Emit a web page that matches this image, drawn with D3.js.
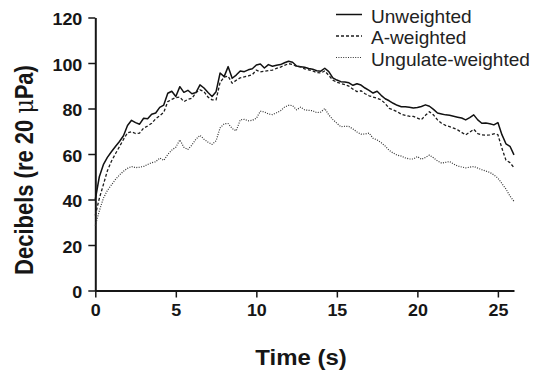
<!DOCTYPE html>
<html>
<head>
<meta charset="utf-8">
<script src="https://cdn.jsdelivr.net/npm/d3@7"></script>
<style>
  html, body { margin: 0; padding: 0; background: #fff; }
  svg { display: block; }
</style>
</head>
<body>
<svg id="chart" width="536" height="372"></svg>
<script>
// Sample times (s), one every 0.25 s
const timeS = [
  0, 0.25, 0.5, 0.75, 1, 1.25, 1.5, 1.75, 2,
  2.25, 2.5, 2.75, 3, 3.25, 3.5, 3.75, 4,
  4.25, 4.5, 4.75, 5, 5.25, 5.5, 5.75, 6,
  6.25, 6.5, 6.75, 7, 7.25, 7.5, 7.75, 8,
  8.25, 8.5, 8.75, 9, 9.25, 9.5, 9.75, 10,
  10.25, 10.5, 10.75, 11, 11.25, 11.5, 11.75, 12,
  12.25, 12.5, 12.75, 13, 13.25, 13.5, 13.75, 14,
  14.25, 14.5, 14.75, 15, 15.25, 15.5, 15.75, 16,
  16.25, 16.5, 16.75, 17, 17.25, 17.5, 17.75, 18,
  18.25, 18.5, 18.75, 19, 19.25, 19.5, 19.75, 20,
  20.25, 20.5, 20.75, 21, 21.25, 21.5, 21.75, 22,
  22.25, 22.5, 22.75, 23, 23.25, 23.5, 23.75, 24,
  24.25, 24.5, 24.75, 25, 25.25, 25.5, 25.75, 26
];

// Sound level (dB re 20 µPa) for each weighting
const unweighted = [
  40, 50, 55.3, 58.5, 61, 63.3, 65.5, 68, 72.5,
  74.8, 73.8, 73.1, 75.7, 75.5, 77.5, 78, 80.5,
  81.5, 86.7, 87.6, 85.3, 89.6, 87.1, 88, 86.5,
  87, 90.4, 89, 87, 85.3, 87.4, 95.6, 94,
  98.4, 93.3, 94.7, 96.5, 96.2, 97, 97.5, 99.1,
  99.6, 97.8, 99.3, 98.6, 99, 99.3, 100.1, 100.8,
  100.3, 98.7, 98.4, 98.1, 97.6, 97.3, 96.6, 96.4,
  97.7, 96.2, 93.5, 92.5, 91.8, 91.6, 91.3, 90.2,
  90.9, 90.3, 89, 88, 86.8, 87.6, 85.8, 84.3,
  83.4, 82.3, 81.4, 80.8, 80.8, 80.5, 80.2, 80.4,
  80.9, 81.6, 81, 79.6, 78, 77.6, 77.2, 77,
  76.6, 76.2, 75.8, 75, 76, 77.2, 75, 73.5,
  73.6, 73.3, 72.8, 73.8, 68.5, 64.5, 63.4, 59.6
];

const aWeighted = [
  33, 40.5, 46.5, 52.6, 56.8, 60.1, 63.2, 66.4, 69.3,
  69.8, 69, 69.2, 71.4, 72.3, 73.5, 75.5, 76.8,
  78.3, 83, 84, 84.8, 85, 83, 84, 84.5,
  87, 88.2, 87.4, 85, 83.8, 83.8, 91.5, 93.8,
  94.2, 91.1, 92.4, 93.5, 93.9, 94.3, 94.9, 96.9,
  96.1, 96.4, 96.7, 96.9, 97.6, 98.2, 99, 99.7,
  99.4, 98.5, 98.3, 97.4, 97, 96.5, 95.8, 95.6,
  96.5, 94.5, 92.5, 91.5, 91, 90.5, 89.8, 88.5,
  87.4, 87.8, 86.5, 85.6, 85, 84.5, 83.8, 82.2,
  80.1, 79.4, 78.6, 77.5, 77, 76.6, 76.5, 75.8,
  75.1, 77, 78.6, 77.2, 75, 73.5, 72.6, 72,
  71.4, 70.6, 69.5, 68.4, 69.6, 70.9, 69, 68.4,
  68.3, 68.4, 68.9, 68.5, 62.5, 57.3, 56.2, 54
];

const ungulateWeighted = [
  28.5, 35, 40.5, 44, 46.4, 48.8, 50.8, 52.4, 53.7,
  54.5, 54, 54.2, 54.5, 55.4, 56.2, 56.6, 58.2,
  57.2, 59.8, 61.7, 63, 66.2, 63, 62, 64,
  66.5, 68.2, 66.5, 65.2, 64.2, 65.8, 71.5, 73.3,
  73.4, 71.2, 70.2, 75, 75.2, 74.6, 74.8, 75.7,
  78.8, 78.5, 77.6, 77.3, 78.1, 79, 80.6, 81.4,
  81.3, 79.4, 80.6, 79.4, 79.2, 79, 78.2, 78.4,
  80, 77.2, 75.2, 73.5, 72, 72.2, 72.1, 71,
  69.7, 68.7, 68.8, 69.2, 66.9, 66.2, 65, 63.5,
  61.6, 60.4, 59.5, 59.1, 58.3, 57.8, 57.8, 58.9,
  57.7, 58.5, 59.5, 58.3, 57, 56, 56.3, 56.7,
  55.6, 54.7, 54.3, 53.9, 54.2, 54.5, 53.8, 53.1,
  52.5, 51.9, 50.8, 49.4, 47, 44.6, 41.5, 39.2
];

const seriesNames = ["Unweighted", "A-weighted", "Ungulate-weighted"];
const xTicks = [0, 5, 10, 15, 20, 25];
const yTicks = [0, 20, 40, 60, 80, 100, 120];

const FONT = "'Liberation Sans', Arial, Helvetica, sans-serif";
const INK = "#161616";

const svg = d3.select("#chart");

const x = d3.scaleLinear().domain([0, 26]).range([95.3, 514]);
const y = d3.scaleLinear().domain([0, 120]).range([290.5, 17.5]);

// Line styles: solid, dashed, dotted
const lineStyles = [
  { dash: null,    width: 1.5, color: "#111" },
  { dash: "3,2",   width: 1.3, color: "#1c1c1c" },
  { dash: "1,1.4", width: 1.2, color: "#333" }
];

// X axis
const gx = svg.append("g")
  .attr("transform", `translate(0,${y(0)})`)
  .call(d3.axisBottom(x).tickValues(xTicks).tickSize(7).tickSizeOuter(0).tickFormat(d3.format("d")));

// Y axis
const gy = svg.append("g")
  .attr("transform", `translate(${x(0)},0)`)
  .call(d3.axisLeft(y).tickValues(yTicks).tickSize(7).tickSizeOuter(0).tickFormat(d3.format("d")));

[gx, gy].forEach(g => {
  g.select(".domain").attr("stroke", INK).attr("stroke-width", 2);
  g.selectAll(".tick line").attr("stroke", INK).attr("stroke-width", 1.5);
  g.selectAll(".tick text")
    .attr("fill", INK)
    .style("font-family", FONT)
    .style("font-size", "16px")
    .style("font-weight", "bold");
});

gx.selectAll(".tick text")
  .attr("y", 0).attr("dy", null)
  .attr("text-anchor", "middle")
  .attr("transform", "translate(0,25.7) scale(1.12,1)");

gy.selectAll(".tick text")
  .attr("x", 0).attr("dy", null)
  .attr("text-anchor", "end")
  .attr("transform", "translate(-13,7) scale(1.12,1)");

// Series lines
const line = d3.line()
  .x((d, i) => x(timeS[i]))
  .y(d => y(d));

[unweighted, aWeighted, ungulateWeighted].forEach((values, k) => {
  const s = lineStyles[k];
  svg.append("path")
    .datum(values)
    .attr("fill", "none")
    .attr("stroke", s.color)
    .attr("stroke-width", s.width)
    .attr("stroke-dasharray", s.dash)
    .attr("stroke-linejoin", "round")
    .attr("d", line);
});

// Legend
const legend = svg.append("g");
seriesNames.forEach((name, k) => {
  const s = lineStyles[k];
  const base = 22.5 + k * 21.5;
  legend.append("line")
    .attr("x1", 336).attr("x2", 362)
    .attr("y1", base - 8).attr("y2", base - 8)
    .attr("stroke", s.color)
    .attr("stroke-width", s.width)
    .attr("stroke-dasharray", s.dash);
  legend.append("text")
    .attr("transform", `translate(371,${base}) scale(1.06,1)`)
    .attr("fill", "#222")
    .style("font-family", FONT)
    .style("font-size", "18px")
    .text(name);
});

// Axis titles
svg.append("text")
  .attr("transform", "translate(301,365) scale(1.09,1)")
  .attr("text-anchor", "middle")
  .attr("fill", INK)
  .style("font-family", FONT)
  .style("font-size", "22px")
  .style("font-weight", "bold")
  .text("Time (s)");

const yTitle = svg.append("text")
  .attr("transform", "translate(33,170) scale(1.15,1) rotate(-90)")
  .attr("text-anchor", "middle")
  .attr("fill", INK)
  .style("font-family", FONT)
  .style("font-size", "22px")
  .style("font-weight", "bold");
yTitle.append("tspan").text("Decibels (re 20 ");
yTitle.append("tspan").style("font-weight", "normal").style("font-family", "'DejaVu Serif', serif").text("μ");
yTitle.append("tspan").text("Pa)");
</script>
</body>
</html>
